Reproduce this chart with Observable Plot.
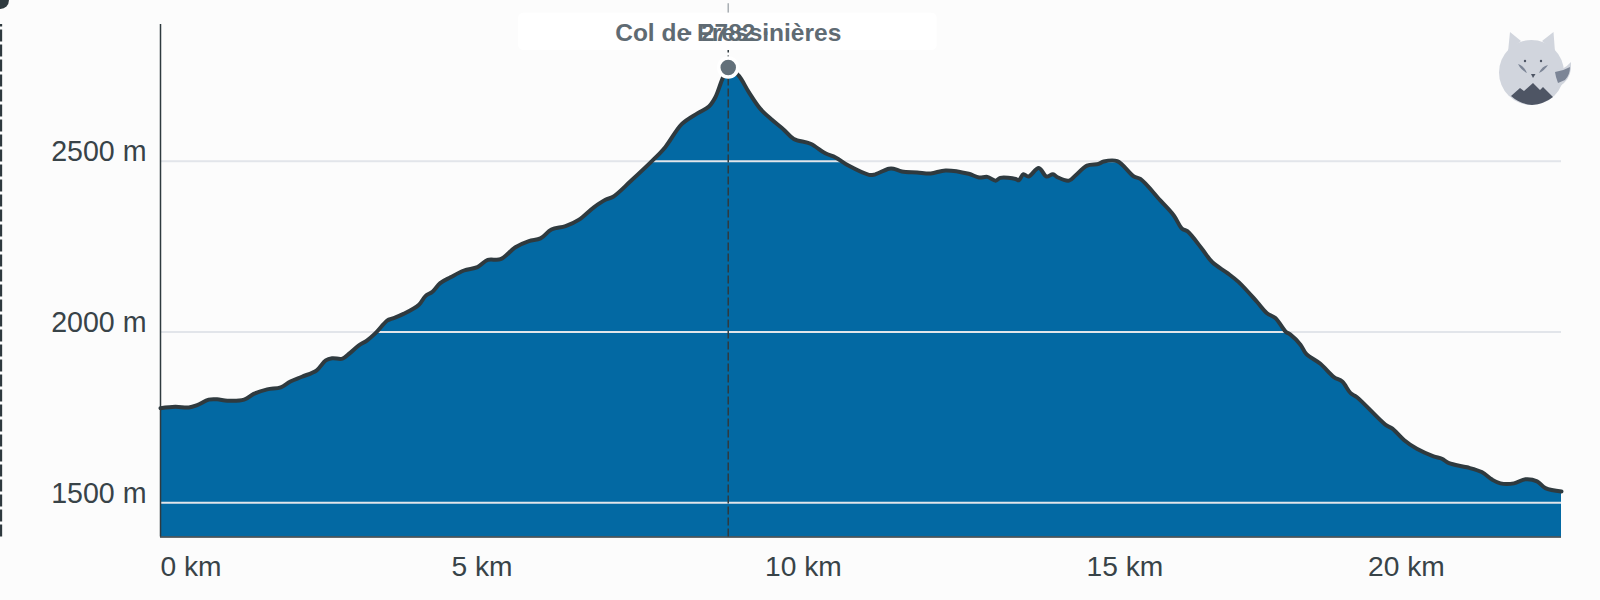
<!DOCTYPE html>
<html>
<head>
<meta charset="utf-8">
<script src="https://cdn.jsdelivr.net/npm/d3@7"></script>
<script src="https://cdn.jsdelivr.net/npm/@observablehq/plot@0.6"></script>
<style>
  html, body { margin: 0; padding: 0; background: #fcfcfc; width: 1600px; height: 600px; overflow: hidden; }
  #chart { position: absolute; left: 0; top: 0; }
  #logo { position: absolute; left: 1490px; top: 20px; }
</style>
</head>
<body>
<div id="chart"></div>
<svg id="logo" width="100" height="100" viewBox="0 0 100 100" aria-hidden="true">
  <circle cx="41.5" cy="52.5" r="32.5" fill="#d1d5dd"/>
  <path d="M20 12 L31 21 L18 32 Z M63.5 12 L52 21 L65 32 Z" fill="#d1d5dd"/>
  <path d="M62 50 Q72 52 81 42 Q82 56 74 63 Q68 68 62 72 Z" fill="#d1d5dd"/>
  <path d="M65 52 Q73 51 80 47 Q80 55 75 60 L68 63 L66 57 Z" fill="#7c8596"/>
  <path d="M21 76 L30 68 L34 71 L43 63 L50 70 L53 67 L63 77 Q54 84 42 85 Q30 84 21 76 Z" fill="#4e5564"/>
  <path d="M28 44 Q34 46 37 53 Q31 50 28 44 Z M58 45 Q52 46 49 53 Q55 50 58 45 Z" fill="#7c8596"/>
  <circle cx="35" cy="41" r="1.2" fill="#4e5564"/><circle cx="51" cy="41" r="1.2" fill="#4e5564"/>
  <path d="M41 54 L45.5 54 L43 58 Z" fill="#4e5564"/>
</svg>
<script>
const km = [0,0.23,0.44,0.57,0.75,0.88,1.04,1.30,1.45,1.66,1.87,2.02,2.20,2.43,2.57,2.67,2.83,2.95,3.08,3.21,3.34,3.53,3.60,3.78,4.02,4.12,4.23,4.35,4.51,4.72,4.93,5.09,5.29,5.52,5.73,5.91,6.08,6.30,6.51,6.74,6.92,7.04,7.31,7.67,7.85,8.11,8.35,8.53,8.63,8.74,8.83,8.99,9.15,9.33,9.51,9.69,9.85,10.11,10.34,10.50,10.70,11.02,11.09,11.33,11.40,11.53,11.77,11.98,12.21,12.57,12.73,12.86,12.99,13.06,13.30,13.35,13.42,13.50,13.66,13.78,13.88,13.95,14.13,14.23,14.41,14.59,14.67,14.88,15.14,15.24,15.55,15.76,15.89,15.97,16.20,16.36,16.59,16.77,17.06,17.21,17.34,17.50,17.57,17.73,17.82,18.04,18.25,18.38,18.51,18.61,19.05,19.16,19.34,19.54,19.80,19.93,20.04,20.32,20.55,20.71,20.84,21.05,21.23,21.41,21.54,21.79];
const elevation = [1777,1781,1779,1786,1802,1803,1799,1802,1819,1832,1838,1855,1869,1888,1917,1923,1922,1939,1960,1975,1996,2034,2039,2053,2080,2105,2118,2143,2160,2180,2190,2211,2213,2248,2266,2274,2300,2310,2329,2365,2387,2396,2441,2505,2541,2609,2640,2660,2687,2741,2774,2751,2702,2653,2621,2593,2565,2551,2523,2511,2487,2460,2460,2478,2478,2470,2467,2464,2473,2463,2452,2454,2443,2451,2448,2444,2462,2455,2480,2455,2462,2453,2443,2458,2487,2492,2499,2500,2455,2448,2385,2341,2302,2295,2243,2204,2173,2146,2087,2055,2041,2001,1993,1963,1936,1907,1868,1855,1821,1809,1729,1717,1684,1658,1636,1629,1616,1604,1590,1568,1557,1557,1569,1563,1543,1533];
const yTicks = [1500,2000,2500];
const xTicks = [0,5,10,15,20];
const passName = "Col de Fressinières";
const passHeight = "· 2782 ·";
const passKm = 8.83;
const passElevation = 2774;
const xDomain = [0,21.79];
const yDomain = [1400,2900];
const labelBoxKm = [5.57,12.08];
const labelBoxM = [2824,2933];
const labelM = 2876;
const crosshairTopM = 2961;
const offscreenKm = -2.49;
const offscreenM = 2970;

const profile = km.map((k,i) => ({km:k, m:elevation[i]}));
const ink = "#2f3a3f", axisText = "#384348", passText = "#5f6b73", grid = "#e2e5ea";
const mFmt = d => d + " m", kmFmt = d => d + " km";
const xAxisOpts = {anchor:"bottom", tickSize:0, tickPadding:19, fontSize:28.2, tickFormat:kmFmt, fill:axisText, label:null};

const chart = Plot.plot({
  width:1600, height:600,
  marginLeft:160, marginRight:39, marginTop:24, marginBottom:63.5,
  style:{background:"#fcfcfc", fontFamily:"'Liberation Sans', Arial, sans-serif", overflow:"hidden"},
  x:{domain:xDomain, label:null},
  y:{domain:yDomain, label:null},
  marks:[
    Plot.ruleX([offscreenKm], {y1:yDomain[0], y2:yDomain[1], stroke:ink, strokeWidth:3.5, strokeDasharray:"12,3"}),
    Plot.dot([offscreenKm], {x:d=>d, y:()=>offscreenM, r:8.5, fill:ink}),
    Plot.areaY(profile, {x:"km", y1:()=>yDomain[0], y2:"m", fill:"#0369a3", curve:"catmull-rom"}),
    Plot.ruleY(yTicks, {stroke:grid, strokeWidth:2}),
    Plot.line(profile, {x:"km", y:"m", stroke:ink, strokeWidth:4, strokeLinejoin:"round", curve:"catmull-rom"}),
    Plot.ruleX([0], {stroke:ink, strokeWidth:1.5}),
    Plot.ruleY([yDomain[0]], {stroke:ink, strokeWidth:1.5}),
    Plot.ruleX([passKm], {y1:yDomain[0], y2:labelBoxM[0], stroke:ink, strokeWidth:1.5, strokeDasharray:"8,3"}),
    Plot.ruleX([passKm], {y1:labelBoxM[1], y2:crosshairTopM, stroke:"#a8aeb3", strokeWidth:1.5}),
    Plot.rect([0], {x1:()=>labelBoxKm[0], x2:()=>labelBoxKm[1], y1:()=>labelBoxM[0], y2:()=>labelBoxM[1], fill:"#ffffff", r:5, rx:5, ry:5}),
    Plot.dot([passKm], {x:d=>d, y:()=>passElevation, r:9.5, fill:"#62707a", stroke:"#ffffff", strokeWidth:3.5}),
    Plot.text([passName], {x:()=>passKm, y:()=>labelM, text:d=>d, fontSize:24.5, fontWeight:"bold", fill:passText}),
    Plot.text([passHeight], {x:()=>passKm, y:()=>labelM, text:d=>d, fontSize:24.5, fontWeight:"bold", fill:passText}),
    Plot.axisY({anchor:"left", ticks:yTicks, tickSize:0, tickPadding:14, fontSize:28.6, tickFormat:mFmt, fill:axisText, label:null, dy:-9}),
    Plot.axisX({...xAxisOpts, ticks:xTicks.slice(1,4)}),
    Plot.axisX({...xAxisOpts, ticks:xTicks.slice(0,1), textAnchor:"start"}),
    Plot.axisX({...xAxisOpts, ticks:xTicks.slice(4), dx:-40})
  ]
});
document.getElementById("chart").appendChild(chart);
</script>
</body>
</html>
